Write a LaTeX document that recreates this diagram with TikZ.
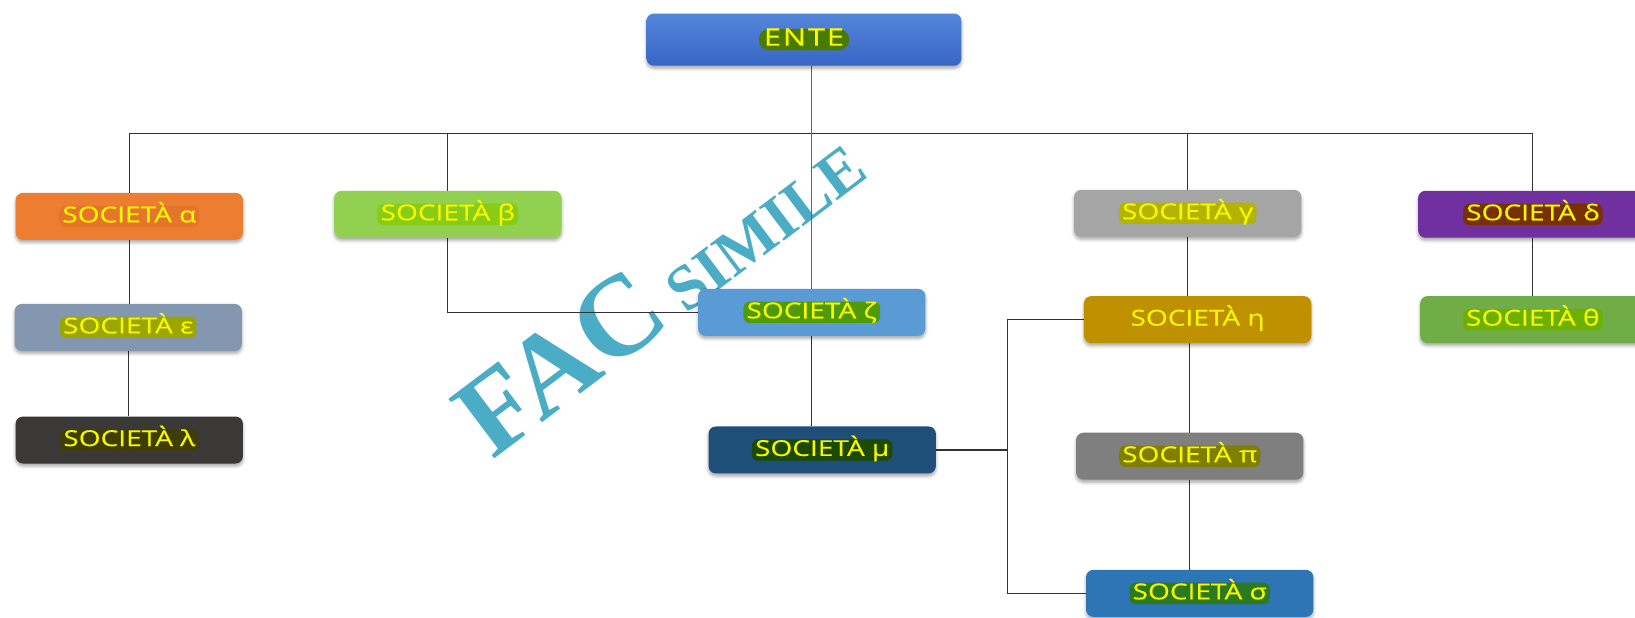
\documentclass[tikz,border=0pt]{standalone}
\usepackage{fontspec}
\setmainfont{Open Sans}[FakeStretch=1.28, FakeBold=0.5]
\newfontfamily\wmfont{Liberation Serif}[BoldFont={Liberation Serif Bold}]
\usetikzlibrary{shadows.blur,calc}
\pgfdeclarelayer{wmlayer}
\pgfdeclarelayer{bglayer}
\pgfsetlayers{wmlayer,bglayer,main}
\definecolor{txtY}{HTML}{F7F700}
\definecolor{wmC}{HTML}{4BACC6}
\definecolor{lineC}{HTML}{333333}
\definecolor{enteT}{HTML}{5286DA}
\definecolor{enteB}{HTML}{3866C6}
\definecolor{enteP}{HTML}{4A7A00}
\definecolor{cAlpha}{HTML}{ED7D31}\definecolor{pAlpha}{HTML}{E5752A}
\definecolor{cBeta}{HTML}{92D050}\definecolor{pBeta}{HTML}{88CC18}
\definecolor{cGamma}{HTML}{A5A5A5}\definecolor{pGamma}{HTML}{B4B400}
\definecolor{cDelta}{HTML}{7030A0}\definecolor{pDelta}{HTML}{783000}
\definecolor{cEps}{HTML}{8497B0}\definecolor{pEps}{HTML}{9CA600}
\definecolor{cZeta}{HTML}{5B9BD5}\definecolor{pZeta}{HTML}{4E9A08}
\definecolor{cEta}{HTML}{BF9000}\definecolor{pEta}{HTML}{BF9000}
\definecolor{cTheta}{HTML}{70AD47}\definecolor{pTheta}{HTML}{6CB000}
\definecolor{cLam}{HTML}{3B3838}\definecolor{pLam}{HTML}{3E3E00}
\definecolor{cMu}{HTML}{1F4E79}\definecolor{pMu}{HTML}{1B4A00}
\definecolor{cPi}{HTML}{7F7F7F}\definecolor{pPi}{HTML}{7E7E00}
\definecolor{cSig}{HTML}{2E75B6}\definecolor{pSig}{HTML}{2C7A1E}
\tikzset{
  box/.style={rectangle, rounded corners=7pt, minimum width=218pt, minimum height=45pt, draw=none,
    blur shadow={shadow xshift=0pt, shadow yshift=-2.5pt, shadow blur radius=3pt, shadow opacity=35}},
  pill/.style={rectangle, rounded corners=6pt, inner xsep=3pt, inner ysep=1pt, text=txtY,
    text height=15pt, text depth=3.5pt, font=\fontsize{21}{22}\selectfont},
  conn/.style={draw=lineC, line width=1.1pt},
  wm/.style={text=wmC, inner sep=0pt, font=\wmfont\bfseries}
}
\begin{document}
\begin{tikzpicture}[x=1pt,y=-1pt]
\useasboundingbox (0,0) rectangle (1568,592);
% boxes
\node[box, minimum width=302pt, minimum height=50pt, top color=enteT, bottom color=enteB] (ente) at (771,38) {};
\node[pill, fill=enteP, rounded corners=10pt, inner xsep=5pt, font=\fontsize{23}{24}\selectfont\addfontfeature{LetterSpace=8}] (enteT) at (ente) {ENTE};
\node[box, fill=cAlpha] (alpha) at (124,207.5) {};
\node[pill, fill=pAlpha] (alphaT) at (alpha) {SOCIETÀ α};
\node[box, fill=cBeta] (beta) at (429.5,205.5) {};
\node[pill, fill=pBeta] (betaT) at (beta) {SOCIETÀ β};
\node[box, fill=cGamma] (gamma) at (1139,204.5) {};
\node[pill, fill=pGamma] (gammaT) at (gamma) {SOCIETÀ γ};
\node[box, minimum width=220pt, fill=cDelta] (delta) at (1470,205.5) {};
\node[pill, fill=pDelta] (deltaT) at (delta) {SOCIETÀ δ};
\node[box, fill=cEps] (eps) at (123,314) {};
\node[pill, fill=pEps] (epsT) at (eps) {SOCIETÀ ε};
\node[box, fill=cZeta] (zeta) at (778.5,299.5) {};
\node[pill, fill=pZeta] (zetaT) at (zeta) {SOCIETÀ ζ};
\node[box, fill=cEta] (eta) at (1148.5,306.5) {};
\node[pill, fill=pEta] (etaT) at (eta) {SOCIETÀ η};
\node[box, minimum width=216pt, fill=cTheta] (theta) at (1470,306.5) {};
\node[pill, fill=pTheta] (thetaT) at (theta) {SOCIETÀ θ};
\node[box, fill=cLam] (lam) at (124,422) {};
\node[pill, fill=pLam] (lamT) at (lam) {SOCIETÀ λ};
\node[box, fill=cMu] (mu) at (788.5,431.5) {};
\node[pill, fill=pMu] (muT) at (mu) {SOCIETÀ μ};
\node[box, fill=cPi] (pi) at (1141,437.5) {};
\node[pill, fill=pPi] (piT) at (pi) {SOCIETÀ π};
\node[box, fill=cSig] (sig) at (1150.5,569) {};
\node[pill, fill=pSig] (sigT) at (sig) {SOCIETÀ σ};
% connectors
\begin{pgfonlayer}{bglayer}
\coordinate (bus) at (0,128);
\coordinate (brk) at (966,0);
\draw[conn] (alpha.north) -- (alpha.north |- bus) -- (delta.north |- bus) -- (delta.north);
\draw[conn] (beta.north) -- (beta.north |- bus);
\draw[conn] (gamma.north) -- (gamma.north |- bus);
\draw[conn, draw=black!60, line width=1pt] (zeta.north) -- (zeta.north |- ente.south);
\draw[conn] (alpha.south) -- (alpha.south |- eps.north);
\draw[conn] (eps.south) -- (eps.south |- lam.north);
\draw[conn] (beta.south) |- (zeta.west);
\draw[conn] (zeta.south) -- (zeta.south |- mu.north);
\draw[conn] (mu.east) -- (mu.east -| brk);
\draw[conn] (eta.west) -| (brk |- sig.west) -- (sig.west);
\draw[conn] (gamma.south) -- (gamma.south |- eta.north);
\draw[conn] (pi.north |- eta.south) -- (pi.north);
\draw[conn] (pi.south) -- (pi.south |- sig.north);
\draw[conn] (delta.south) -- (delta.south |- theta.north);
\end{pgfonlayer}
% watermark
\begin{pgfonlayer}{wmlayer}
\node[wm, rotate=37, anchor=base west] (wmark) at (472,442)
  {\fontsize{110}{110}\selectfont FAC\fontsize{61}{61}\selectfont{} SIMILE};
\end{pgfonlayer}
\end{tikzpicture}
\end{document}
